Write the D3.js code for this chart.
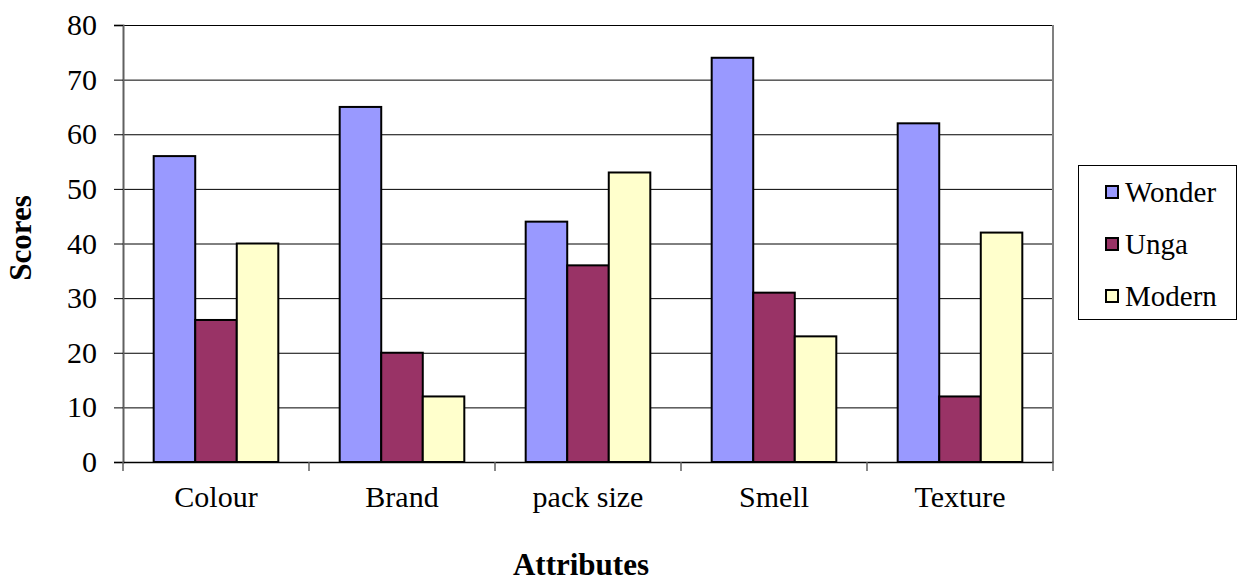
<!DOCTYPE html>
<html lang="en">
	<head>
		<meta charset="utf-8">
		<title>Scores by attribute</title>
		<script type="text/javascript" src="https://cdnjs.cloudflare.com/ajax/libs/d3/7.8.5/d3.min.js"></script>
		<style type="text/css">
			body { margin: 0; background: #fff; }
			text { font-family: "Liberation Serif", "DejaVu Serif", serif; }
		</style>
	</head>
	<body>
		<script type="text/javascript">

			//Data
			var categories = ["Colour", "Brand", "pack size", "Smell", "Texture"];
			var seriesNames = ["Wonder", "Unga", "Modern"];
			var wonder = [56, 65, 44, 74, 62];
			var unga = [26, 20, 36, 31, 12];
			var modern = [40, 12, 53, 23, 42];
			var yTicks = [0, 10, 20, 30, 40, 50, 60, 70, 80];
			var colors = ["#9999ff", "#993366", "#ffffcc"];

			var series = [wonder, unga, modern];

			//Width and height
			var w = 1238;
			var h = 581;
			var plotLeft = 123, plotTop = 25, plotRight = 1053, plotBottom = 462;

			var svg = d3.select("body")
						.append("svg")
						.attr("width", w)
						.attr("height", h);

			//Scales
			var xScale = d3.scaleBand()
						   .domain(categories)
						   .range([plotLeft, plotRight])
						   .paddingInner(0.33)
						   .paddingOuter(0.165);

			var xSub = d3.scaleBand()
						 .domain(seriesNames)
						 .range([0, xScale.bandwidth()]);

			var yScale = d3.scaleLinear()
						   .domain([0, 80])
						   .range([plotBottom, plotTop]);

			var colorScale = d3.scaleOrdinal()
							   .domain(seriesNames)
							   .range(colors);

			//Gridlines
			svg.append("g")
			   .selectAll("line")
			   .data(yTicks.slice(1))
			   .enter()
			   .append("line")
			   .attr("x1", plotLeft)
			   .attr("x2", plotRight)
			   .attr("y1", d=>yScale(d) + 0.5)
			   .attr("y2", d=>yScale(d) + 0.5)
			   .attr("stroke", "#000")
			   .attr("stroke-width", 1);

			//Right border of plot area
			svg.append("line")
			   .attr("x1", plotRight)
			   .attr("x2", plotRight)
			   .attr("y1", plotTop)
			   .attr("y2", plotBottom)
			   .attr("stroke", "#808080")
			   .attr("stroke-width", 2);

			//Bars
			var groups = svg.append("g")
							.selectAll("g")
							.data(categories)
							.enter()
							.append("g")
							.attr("transform", d=>`translate(${xScale(d)},0)`);

			groups.selectAll("rect")
				  .data((d, i)=>seriesNames.map((s, j)=>({name: s, value: series[j][i]})))
				  .enter()
				  .append("rect")
				  .attr("x", d=>xSub(d.name))
				  .attr("y", d=>yScale(d.value))
				  .attr("width", xSub.bandwidth())
				  .attr("height", d=>yScale(0) - yScale(d.value))
				  .attr("fill", d=>colorScale(d.name))
				  .attr("stroke", "#000")
				  .attr("stroke-width", 2);

			//Y axis
			var yAxis = d3.axisLeft(yScale)
						  .tickValues(yTicks)
						  .tickSize(9)
						  .tickPadding(17);

			var yG = svg.append("g")
						.attr("transform", `translate(${plotLeft},0)`)
						.call(yAxis);
			yG.select(".domain").attr("stroke", "#606060").attr("stroke-width", 2);
			yG.selectAll(".tick line").attr("stroke", "#000");
			yG.selectAll("text")
			  .attr("font-size", 30)
			  .attr("font-family", "Liberation Serif")
			  .attr("fill", "#000");

			//X axis, ticks between categories
			var xAxis = d3.axisBottom(xScale)
						  .tickSize(0)
						  .tickPadding(24);

			var xG = svg.append("g")
						.attr("transform", `translate(0,${plotBottom})`)
						.call(xAxis);
			xG.select(".domain").attr("stroke", "#000").attr("stroke-width", 1.5);
			xG.selectAll("text")
			  .attr("font-size", 30)
			  .attr("font-family", "Liberation Serif")
			  .attr("fill", "#000");

			var step = xScale.step();
			xG.selectAll(".sep")
			  .data(d3.range(categories.length + 1))
			  .enter()
			  .append("line")
			  .attr("x1", d=>plotLeft + d * step)
			  .attr("x2", d=>plotLeft + d * step)
			  .attr("y1", 0)
			  .attr("y2", 9)
			  .attr("stroke", "#606060")
			  .attr("stroke-width", 1.5);

			//Axis titles
			svg.append("text")
			   .attr("x", 581)
			   .attr("y", 575)
			   .attr("text-anchor", "middle")
			   .attr("font-size", 31)
			   .attr("font-weight", "bold")
			   .text("Attributes");

			svg.append("text")
			   .attr("transform", "translate(31,238) rotate(-90)")
			   .attr("text-anchor", "middle")
			   .attr("font-size", 31)
			   .attr("font-weight", "bold")
			   .text("Scores");

			//Legend
			var legend = svg.append("g");
			legend.append("rect")
				  .attr("x", 1078.5)
				  .attr("y", 165.5)
				  .attr("width", 158)
				  .attr("height", 154)
				  .attr("fill", "#fff")
				  .attr("stroke", "#000")
				  .attr("stroke-width", 1);

			var items = legend.selectAll(".item")
							  .data(seriesNames)
							  .enter()
							  .append("g")
							  .attr("transform", (d, i)=>`translate(1105,${192 + i * 52})`);

			items.append("rect")
				 .attr("x", 1)
				 .attr("y", -6)
				 .attr("width", 12)
				 .attr("height", 12)
				 .attr("fill", d=>colorScale(d))
				 .attr("stroke", "#000")
				 .attr("stroke-width", 2);

			items.append("text")
				 .attr("x", 20)
				 .attr("y", 10)
				 .attr("font-size", 29)
				 .attr("font-family", "Liberation Serif")
				 .text(d=>d);

		</script>
	</body>
</html>
